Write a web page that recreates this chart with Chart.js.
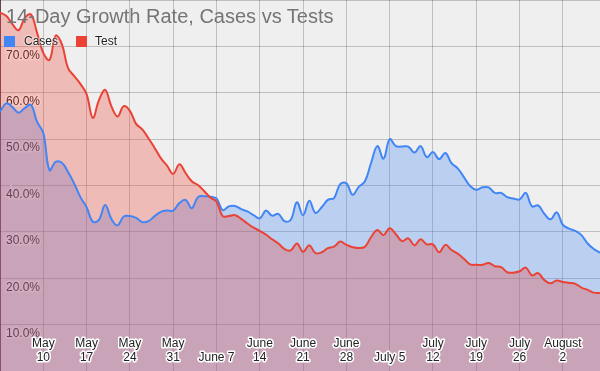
<!DOCTYPE html>
<html>
<head>
<meta charset="utf-8">
<script src="https://cdn.jsdelivr.net/npm/chart.js@4/dist/chart.umd.min.js"></script>
<style>
html,body{margin:0;padding:0;background:#efefef;}
#wrap{position:relative;width:600px;height:371px;overflow:hidden;background:#efefef;}
#chart{position:absolute;left:0;top:0;}
#title{position:absolute;left:6px;top:5px;font:20px "Liberation Sans",Arial,sans-serif;line-height:23px;color:#757575;white-space:nowrap;z-index:2;}
#legend{position:absolute;left:0;top:0;font:12px "Liberation Sans",Arial,sans-serif;color:#222;z-index:2;}
.item{position:absolute;white-space:nowrap;line-height:14px;text-shadow:0 0 2px #fff,0 0 2px #fff;}
.sw{position:absolute;width:11px;height:11px;}
</style>
</head>
<body>
<div id="wrap">
  <canvas id="chart" width="600" height="371"></canvas>
  <div id="title">14-Day Growth Rate, Cases vs Tests</div>
  <div id="legend">
    <div class="sw" style="left:4px;top:36px;background:#4285f4"></div>
    <div class="item" style="left:24px;top:34px">Cases</div>
    <div class="sw" style="left:76px;top:36px;background:#ea4335"></div>
    <div class="item" style="left:95px;top:34px">Test</div>
  </div>
</div>
<script>
// Categories: one per day
const categories = [
  "May 3","May 4","May 5","May 6","May 7","May 8","May 9","May 10","May 11","May 12",
  "May 13","May 14","May 15","May 16","May 17","May 18","May 19","May 20","May 21","May 22",
  "May 23","May 24","May 25","May 26","May 27","May 28","May 29","May 30","May 31",
  "June 1","June 2","June 3","June 4","June 5","June 6","June 7","June 8","June 9","June 10",
  "June 11","June 12","June 13","June 14","June 15","June 16","June 17","June 18","June 19","June 20",
  "June 21","June 22","June 23","June 24","June 25","June 26","June 27","June 28","June 29","June 30",
  "July 1","July 2","July 3","July 4","July 5","July 6","July 7","July 8","July 9","July 10",
  "July 11","July 12","July 13","July 14","July 15","July 16","July 17","July 18","July 19","July 20",
  "July 21","July 22","July 23","July 24","July 25","July 26","July 27","July 28","July 29","July 30",
  "July 31","August 1","August 2","August 3","August 4","August 5","August 6","August 7","August 8"
];

// Series values (percent)
const casesRate = [
  55.9,57.7,56.9,55.7,56.7,57.4,53.7,51.3,43.3,45.1,
  44.9,42.9,40.4,37.5,35.3,32.2,32.6,35.8,32.8,31.4,
  33.3,33.4,33.0,32.1,32.3,33.4,34.3,34.6,34.6,36.2,
  36.9,35.1,37.5,37.7,37.6,37.2,34.7,35.5,35.6,34.9,
  34.4,33.6,32.9,34.6,33.5,33.9,32.3,32.6,36.4,33.6,
  36.7,34.1,35.3,36.9,37.3,40.3,40.5,38.0,39.7,40.9,
  44.9,48.5,45.8,50.0,48.5,48.4,48.4,47.1,48.5,46.1,
  47.2,45.7,47.0,44.8,43.7,41.8,39.9,39.1,39.6,39.6,
  38.4,38.4,37.5,37.2,37.0,38.4,35.5,35.7,33.9,32.7,
  34.2,31.5,30.7,30.2,29.3,27.5,26.3,25.5
];
const testRate = [
  77.3,76.6,74.8,73.5,76.1,76.9,72.9,68.6,67.1,72.3,
  70.5,65.3,63.6,61.9,59.7,54.6,58.4,60.6,57.1,54.9,
  57.1,56.1,53.3,52.1,50.2,48.1,45.9,44.3,42.5,44.6,
  42.7,40.9,40.1,38.8,37.4,36.5,33.4,33.4,33.6,32.8,
  31.8,30.9,30.2,29.4,28.4,27.5,26.3,26.0,27.5,25.7,
  27.1,25.4,25.6,26.5,26.8,27.9,27.2,26.7,26.5,26.8,
  28.9,30.4,29.3,30.8,29.5,28.0,28.6,27.1,28.4,27.3,
  27.3,25.6,27.2,26.1,25.3,24.2,23.0,22.9,22.9,23.3,
  22.6,22.4,21.3,21.2,21.5,22.3,20.6,21.1,19.6,18.9,
  19.5,19.2,19.0,18.8,18.0,17.5,16.9,16.8
];

// Tick labels
const xTickDates = ["May 10","May 17","May 24","May 31","June 7","June 14","June 21","June 28","July 5","July 12","July 19","July 26","August 2"];
const xTickLines = [["May","10"],["May","17"],["May","24"],["May","31"],["June 7"],["June","14"],["June","21"],["June","28"],["July 5"],["July","12"],["July","19"],["July","26"],["August","2"]];
const yTickValues = [10,20,30,40,50,60,70];

const FONT = '"Liberation Sans", Arial, sans-serif';

const xLabelPlugin = {
  id: 'xLabels',
  afterDraw(chart) {
    const ctx = chart.ctx, xs = chart.scales.x, area = chart.chartArea;
    ctx.save();
    ctx.font = '12px ' + FONT;
    ctx.textAlign = 'center';
    ctx.textBaseline = 'middle';
    ctx.lineJoin = 'round';
    ctx.lineWidth = 3;
    ctx.strokeStyle = '#ffffff';
    ctx.fillStyle = '#222222';
    xTickDates.forEach((d, i) => {
      const x = xs.getPixelForValue(categories.indexOf(d));
      const lines = xTickLines[i];
      lines.forEach((t, j) => {
        const y = area.bottom - 13.3 - (lines.length - 1 - j) * 13.7;
        ctx.strokeText(t, x, y);
        ctx.fillText(t, x, y);
      });
    });
    ctx.restore();
  }
};

function flatten(scale, isX) {
  if (isX) { scale.height = 0; } else { scale.width = 0; }
  scale.paddingTop = 0;
  scale.paddingBottom = 0;
  scale.paddingLeft = 0;
  scale.paddingRight = 0;
}

new Chart(document.getElementById('chart'), {
  type: 'line',
  data: {
    labels: categories,
    datasets: [
      {
        label: 'Cases',
        data: casesRate,
        borderColor: '#4285f4',
        backgroundColor: 'rgba(66,133,244,0.3)',
        borderWidth: 2,
        fill: 'origin',
        pointRadius: 0,
        tension: 0.4,
        order: 1
      },
      {
        label: 'Test',
        data: testRate,
        borderColor: '#ea4335',
        backgroundColor: 'rgba(234,67,53,0.3)',
        borderWidth: 2,
        fill: 'origin',
        pointRadius: 0,
        tension: 0.4,
        order: 0
      }
    ]
  },
  options: {
    responsive: false,
    animation: false,
    devicePixelRatio: 1,
    layout: { padding: 0 },
    plugins: {
      legend: { display: false },
      title: { display: false },
      tooltip: { enabled: false },
      filler: { drawTime: 'beforeDatasetsDraw' }
    },
    scales: {
      x: {
        type: 'category',
        offset: false,
        border: { display: false },
        afterFit: (scale) => flatten(scale, true),
        grid: {
          drawTicks: false,
          offset: false,
          lineWidth: 1,
          color: (c) => c.index === 0 ? 'rgba(60,10,35,0.75)' : (c.index % 7 === 0 ? 'rgba(0,0,0,0.2)' : 'rgba(0,0,0,0)')
        },
        ticks: { display: false }
      },
      y: {
        min: 0,
        max: 80,
        border: { display: false },
        afterFit: (scale) => flatten(scale, false),
        grid: { drawTicks: false, color: 'rgba(0,0,0,0.2)', lineWidth: 1 },
        ticks: {
          stepSize: 10,
          mirror: true,
          padding: 6,
          labelOffset: 9,
          color: '#222222',
          textStrokeColor: '#ffffff',
          textStrokeWidth: 3,
          font: { family: FONT, size: 12 },
          callback: (v) => yTickValues.includes(v) ? v.toFixed(1) + '%' : ''
        }
      }
    }
  },
  plugins: [xLabelPlugin]
});
</script>
</body>
</html>
